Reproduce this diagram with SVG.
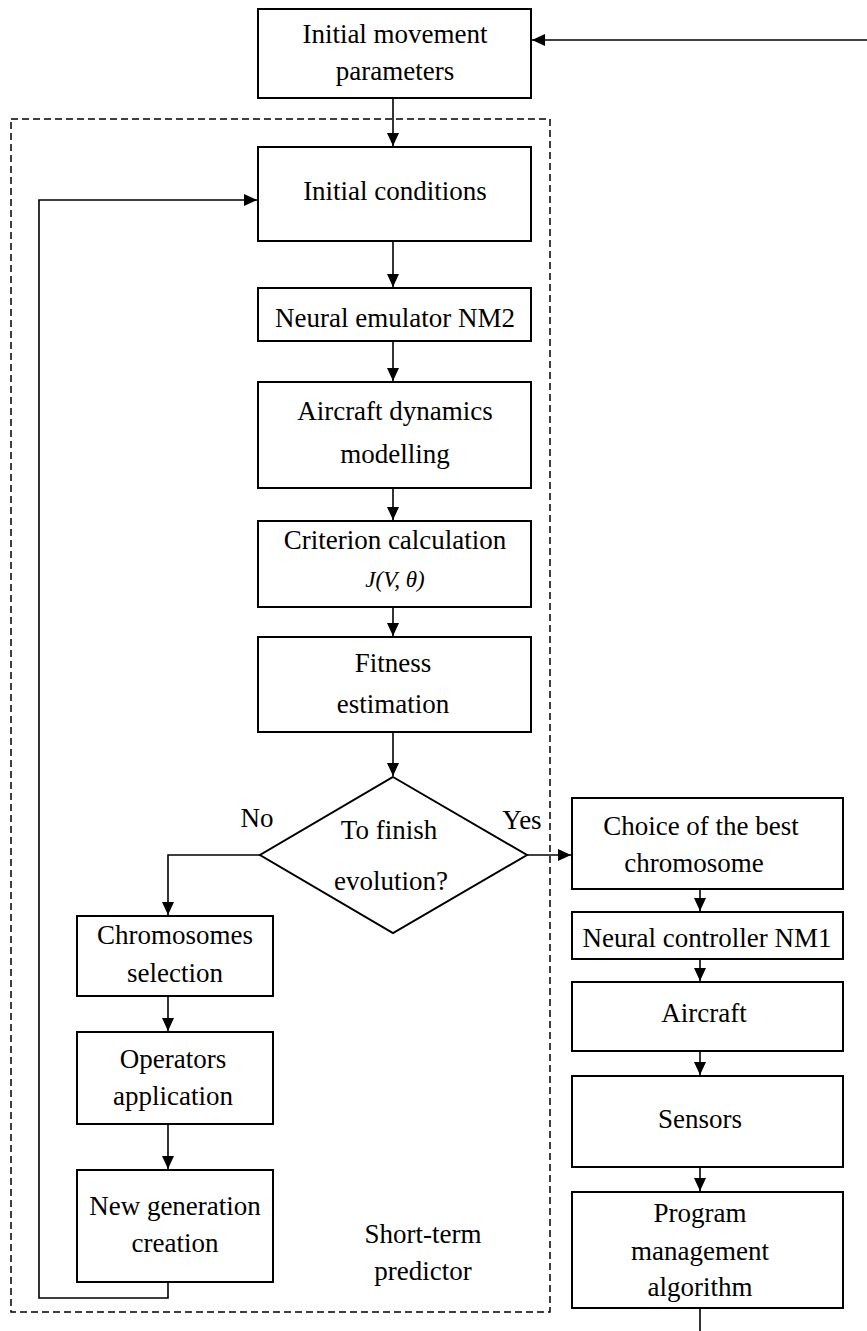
<svg xmlns="http://www.w3.org/2000/svg" width="867" height="1331" viewBox="0 0 867 1331">
<style>
.box{fill:#fff;stroke:#000;stroke-width:2}
.t{font-family:"Liberation Serif","Times New Roman",serif;font-size:27px;fill:#000;text-anchor:middle}
.c{fill:none;stroke:#000;stroke-width:1.6}
.dash{fill:none;stroke:#000;stroke-width:1.5;stroke-dasharray:7,4}
</style>
<defs>
<marker id="ah" markerUnits="userSpaceOnUse" markerWidth="14" markerHeight="12" refX="13" refY="6" orient="auto">
<path d="M0,0 L13,6 L0,12 z" fill="#000"/>
</marker>
</defs>
<rect id="predictor-frame" class="dash" x="11" y="119" width="539" height="1193"/>
<g id="connectors">
<path class="c" d="M867,40 H532" marker-end="url(#ah)"/>
<path class="c" d="M393,98 V146" marker-end="url(#ah)"/>
<path class="c" d="M168,1282 V1298 H39 V200 H257" marker-end="url(#ah)"/>
<path class="c" d="M393,241 V287" marker-end="url(#ah)"/>
<path class="c" d="M393,341 V381" marker-end="url(#ah)"/>
<path class="c" d="M393,488 V520" marker-end="url(#ah)"/>
<path class="c" d="M393,607 V636" marker-end="url(#ah)"/>
<path class="c" d="M393,732 V776" marker-end="url(#ah)"/>
<path class="c" d="M260,855 H168 V915" marker-end="url(#ah)"/>
<path class="c" d="M527,855 H571" marker-end="url(#ah)"/>
<path class="c" d="M168,996 V1031" marker-end="url(#ah)"/>
<path class="c" d="M168,1124 V1169" marker-end="url(#ah)"/>
<path class="c" d="M700,889 V911" marker-end="url(#ah)"/>
<path class="c" d="M700,959 V981" marker-end="url(#ah)"/>
<path class="c" d="M700,1051 V1075" marker-end="url(#ah)"/>
<path class="c" d="M700,1167 V1191" marker-end="url(#ah)"/>
<path class="c" d="M700,1308 V1331"/>
</g>
<g id="initial-movement"><rect class="box" x="258" y="9" width="273" height="89"/><text class="t" x="395" y="43">Initial movement</text><text class="t" x="395" y="80">parameters</text></g>
<g id="initial-conditions"><rect class="box" x="258" y="147" width="273" height="94"/><text class="t" x="395" y="200">Initial conditions</text></g>
<g id="neural-emulator"><rect class="box" x="258" y="288" width="273" height="53"/><text class="t" x="395" y="327">Neural emulator NM2</text></g>
<g id="aircraft-dynamics"><rect class="box" x="258" y="382" width="273" height="106"/><text class="t" x="395" y="420">Aircraft dynamics</text><text class="t" x="395" y="463">modelling</text></g>
<g id="criterion"><rect class="box" x="258" y="521" width="273" height="86"/><text class="t" x="395" y="549">Criterion calculation</text><text class="t" x="395" y="587" style="font-size:23px;font-style:italic">J(V, θ)</text></g>
<g id="fitness"><rect class="box" x="258" y="637" width="273" height="95"/><text class="t" x="393" y="672">Fitness</text><text class="t" x="393" y="713">estimation</text></g>
<g id="finish-decision"><polygon class="box" points="393,777 527,855 393,933 260,855"/><text class="t" x="389" y="839">To finish</text><text class="t" x="391" y="890">evolution?</text></g>
<text class="t" x="257" y="827">No</text>
<text class="t" x="522" y="829">Yes</text>
<g id="chromosomes-selection"><rect class="box" x="77" y="916" width="196" height="80"/><text class="t" x="175" y="944">Chromosomes</text><text class="t" x="175" y="982">selection</text></g>
<g id="operators-application"><rect class="box" x="77" y="1032" width="196" height="92"/><text class="t" x="173" y="1068">Operators</text><text class="t" x="173" y="1105">application</text></g>
<g id="new-generation"><rect class="box" x="77" y="1170" width="196" height="112"/><text class="t" x="175" y="1215">New generation</text><text class="t" x="175" y="1252">creation</text></g>
<g id="short-term-label"><text class="t" x="423" y="1243">Short-term</text><text class="t" x="423" y="1280">predictor</text></g>
<g id="best-chromosome"><rect class="box" x="572" y="798" width="271" height="91"/><text class="t" x="701" y="835">Choice of the best</text><text class="t" x="694" y="872">chromosome</text></g>
<g id="neural-controller"><rect class="box" x="572" y="912" width="271" height="47"/><text class="t" x="707" y="947">Neural controller NM1</text></g>
<g id="aircraft"><rect class="box" x="572" y="982" width="271" height="69"/><text class="t" x="704" y="1022">Aircraft</text></g>
<g id="sensors"><rect class="box" x="572" y="1076" width="271" height="91"/><text class="t" x="700" y="1128">Sensors</text></g>
<g id="program-management"><rect class="box" x="572" y="1192" width="271" height="116"/><text class="t" x="700" y="1222">Program</text><text class="t" x="700" y="1260">management</text><text class="t" x="700" y="1296">algorithm</text></g>
</svg>
